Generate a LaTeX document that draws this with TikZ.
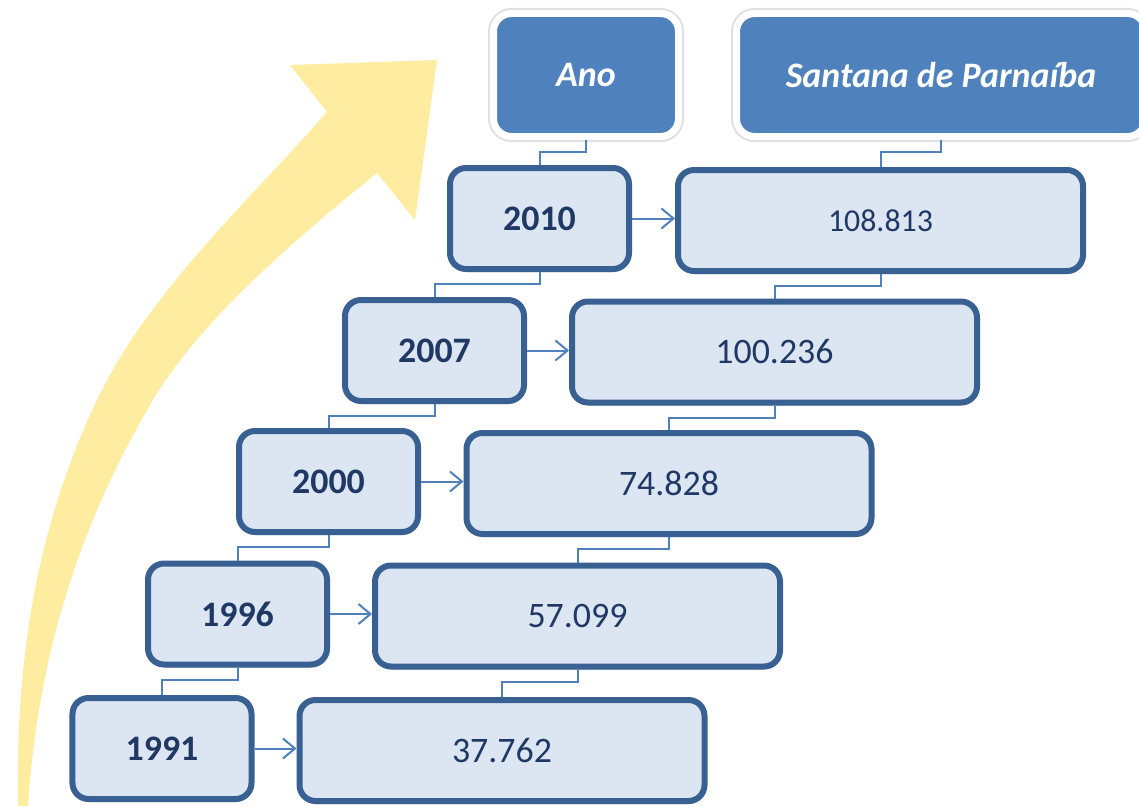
\documentclass[tikz,border=0pt]{standalone}
\usepackage{fontspec}
\setmainfont{Carlito}
\usetikzlibrary{shadows,arrows.meta}
\definecolor{hdr}{RGB}{79,129,189}
\definecolor{bx}{RGB}{220,230,242}
\definecolor{bxd}{RGB}{56,96,146}
\definecolor{txt}{RGB}{31,56,100}
\definecolor{yel}{RGB}{254,236,160}
\definecolor{ln}{RGB}{79,129,189}
\tikzset{
  shd/.style={drop shadow={shadow xshift=1bp,shadow yshift=-3bp,opacity=0.22,fill=black}},
  hdrbox/.style={preaction={draw=black!12,line width=11bp},fill=hdr,draw=white,line width=7bp,rounded corners=18bp,
    minimum height=123bp,text=white,font=\fontsize{36}{40}\selectfont\bfseries\itshape},
  yearbox/.style={shd,fill=bx,draw=bxd,line width=6bp,rounded corners=16bp,
    minimum width=179bp,minimum height=101bp,text=txt,font=\fontsize{36}{40}\selectfont\bfseries},
  valbox/.style={shd,fill=bx,draw=bxd,line width=6bp,rounded corners=16bp,
    minimum width=405bp,minimum height=101bp,text=txt,font=\fontsize{36}{40}\selectfont},
  conn/.style={draw=ln,line width=2bp},
  arr/.style={draw=ln,line width=2bp,-{Straight Barb[length=12bp,width=20bp]}}
}
\begin{document}
\begin{tikzpicture}[x=1bp,y=-1bp]
\useasboundingbox (0,0) rectangle (1139,806);
\fill[white] (0,0) rectangle (1139,806);
% yellow arrow
\fill[yel] (18,806) .. controls (15,650) and (40,520) .. (97,400)
  .. controls (150,290) and (250,200) .. (327,112)
  -- (290,65) -- (437,60) -- (415,220) -- (377,173)
  .. controls (300,235) and (200,320) .. (153,400)
  .. controls (100,490) and (40,620) .. (28,806) -- cycle;
% headers
\node[hdrbox,minimum width=185bp] (ano) at (586,75) {Ano};
\node[hdrbox,minimum width=409bp] (stp) at (941,75) {Santana de Parna\'{\i}ba};
% years
\node[yearbox] (y10) at (539.5,218.5) {2010};
\node[yearbox] (y07) at (434.5,350.5) {2007};
\node[yearbox] (y00) at (328.5,481.5) {2000};
\node[yearbox] (y96) at (237.5,614) {1996};
\node[yearbox] (y91) at (162,748.5) {1991};
% values
\node[valbox,font=\fontsize{32}{36}\selectfont] (v10) at (880.5,220.5) {108.813};
\node[valbox] (v07) at (774.5,352) {100.236};
\node[valbox] (v00) at (669,483.5) {74.828};
\node[valbox] (v96) at (577.5,616) {57.099};
\node[valbox] (v91) at (502,750.5) {37.762};
% elbow connectors
\draw[conn] (ano.south) -- ++(0,12) -| (y10.north);
\draw[conn] (y10.south) -- ++(0,12) -| (y07.north);
\draw[conn] (y07.south) -- ++(0,12) -| (y00.north);
\draw[conn] (y00.south) -- ++(0,12) -| (y96.north);
\draw[conn] (y96.south) -- ++(0,12) -| (y91.north);
\draw[conn] (stp.south) -- ++(0,12) -| (v10.north);
\draw[conn] (v10.south) -- ++(0,12) -| (v07.north);
\draw[conn] (v07.south) -- ++(0,12) -| (v00.north);
\draw[conn] (v00.south) -- ++(0,12) -| (v96.north);
\draw[conn] (v96.south) -- ++(0,12) -| (v91.north);
% arrows
\draw[arr] (y10.east) -- (y10.east -| v10.west);
\draw[arr] (y07.east) -- (y07.east -| v07.west);
\draw[arr] (y00.east) -- (y00.east -| v00.west);
\draw[arr] (y96.east) -- (y96.east -| v96.west);
\draw[arr] (y91.east) -- (y91.east -| v91.west);
\end{tikzpicture}
\end{document}
